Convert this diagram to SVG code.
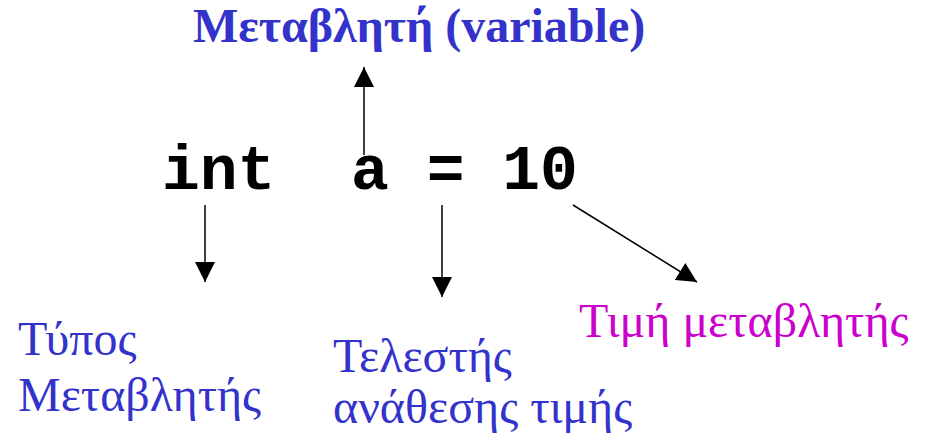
<svg xmlns="http://www.w3.org/2000/svg" width="928" height="440" viewBox="0 0 928 440">
<style>
.title{font-family:"Liberation Serif","Times New Roman",serif;font-weight:bold;font-size:48px;fill:#3333CC}
.code{font-family:"Liberation Mono","Courier New",monospace;font-weight:bold;font-size:63px;fill:#000}
.lbl{font-family:"Liberation Serif","Times New Roman",serif;font-size:48px;fill:#3333CC}
.mag{fill:#CC00CC}
.con{stroke:#000;stroke-width:1.5;fill:none;marker-end:url(#ah)}
</style>
<defs>
<marker id="ah" viewBox="0 0 20 20" refX="20" refY="10" markerWidth="20" markerHeight="20" markerUnits="userSpaceOnUse" orient="auto">
<path d="M0,0 L20,10 L0,20 Z" fill="#000"/>
</marker>
</defs>
<g id="title"><text class="title" x="193" y="42">Μεταβλητή (variable)</text></g>
<g id="code"><text class="code" x="162" y="189" xml:space="preserve">int  a = 10</text></g>
<g id="type"><text class="lbl" x="18" y="355">Τύπος</text><text class="lbl" x="18" y="411">Μεταβλητής</text></g>
<g id="op"><text class="lbl" x="333" y="372">Τελεστής</text><text class="lbl" x="333" y="423">ανάθεσης τιμής</text></g>
<g id="value"><text class="lbl mag" x="579" y="337">Τιμή μεταβλητής</text></g>
<g id="connectors">
<line class="con" x1="364" y1="155" x2="364" y2="67"/>
<line class="con" x1="205" y1="205" x2="205" y2="282"/>
<line class="con" x1="442" y1="205" x2="442" y2="297"/>
<line class="con" x1="573" y1="205" x2="697" y2="282"/>
</g>
</svg>
